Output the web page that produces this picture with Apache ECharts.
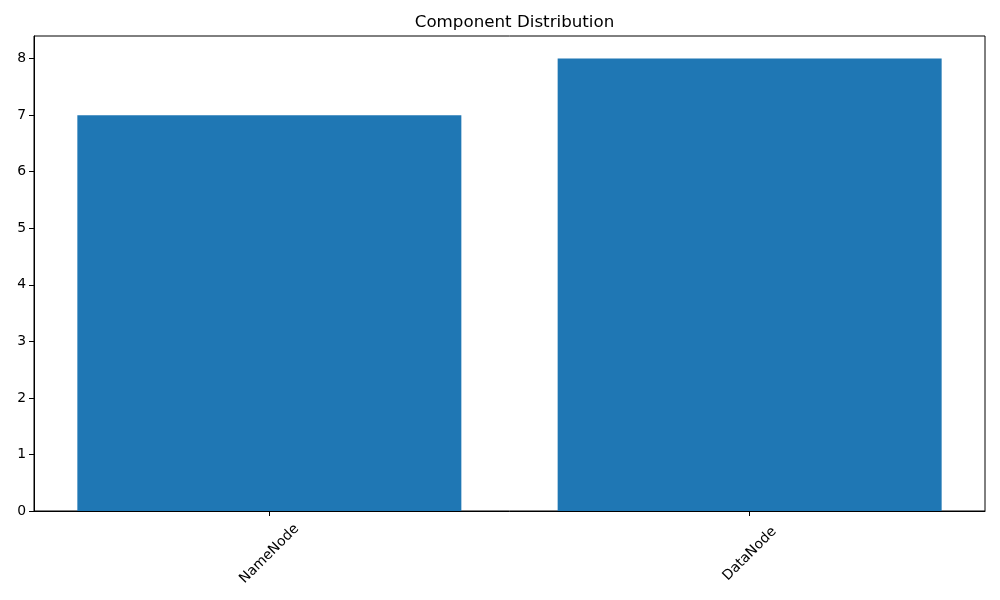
<!DOCTYPE html>
<html>
<head>
<meta charset="utf-8">
<script src="https://cdn.jsdelivr.net/npm/echarts@6/dist/echarts.min.js"></script>
<style>html,body{margin:0;padding:0;background:#fff}#c{width:1000px;height:600px}</style>
</head>
<body>
<div id="c"></div>
<script>
const categories = ['NameNode', 'DataNode'];
const counts = [7, 8];
const yTicks = [0, 1, 2, 3, 4, 5, 6, 7, 8];
const xTicks = [0, 1];

const chart = echarts.init(document.getElementById('c'));
const font = 'DejaVu Sans';
chart.setOption({
  animation: false,
  backgroundColor: '#fff',
  title: {
    text: 'Component Distribution',
    left: 509.5, top: 9, textAlign: 'center',
    textStyle: { fontFamily: font, fontSize: 16.7, fontWeight: 'normal', color: '#000' }
  },
  grid: { left: 34, right: 15, top: 36, bottom: 89, show: true, borderColor: '#000', borderWidth: 1, backgroundColor: 'transparent' },
  xAxis: {
    type: 'value', min: -0.49, max: 1.49,
    axisLine: { show: true, onZero: false, lineStyle: { color: '#000', width: 1 } },
    axisTick: { show: true, length: 5, customValues: xTicks, lineStyle: { color: '#000' } },
    splitLine: { show: false },
    axisLabel: {
      customValues: xTicks,
      formatter: v => categories[Math.round(v)],
      rotate: 45, align: 'center', verticalAlign: 'middle', margin: 43,
      fontFamily: font, fontSize: 13.9, color: '#000'
    }
  },
  yAxis: {
    type: 'value', min: 0, max: 8.4,
    axisLine: { show: true, onZero: false, lineStyle: { color: '#000', width: 1 } },
    axisTick: { show: true, length: 5, customValues: yTicks, lineStyle: { color: '#000' } },
    splitLine: { show: false },
    axisLabel: { customValues: yTicks, margin: 8, fontFamily: font, fontSize: 13.9, color: '#000' }
  },
  series: [{
    type: 'bar',
    data: categories.map((c, i) => [i, counts[i]]),
    barWidth: 384,
    itemStyle: { color: '#1f77b4' }
  }]
});
</script>
</body>
</html>
